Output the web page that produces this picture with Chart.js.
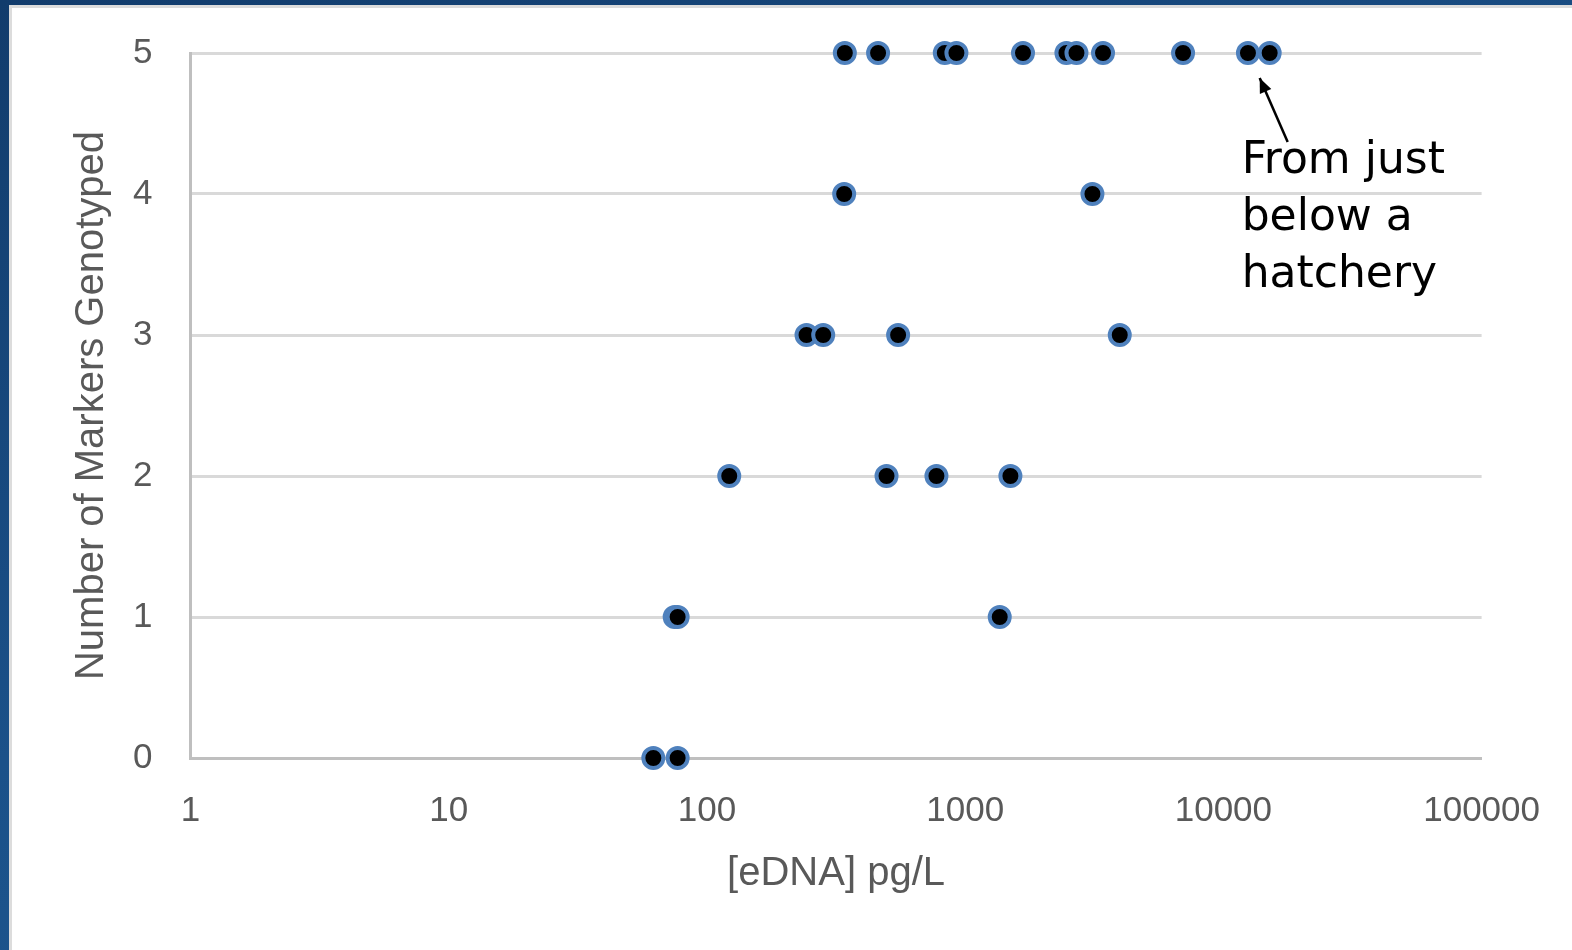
<!DOCTYPE html>
<html>
<head>
<meta charset="utf-8">
<script src="https://cdn.jsdelivr.net/npm/chart.js@4.4.1/dist/chart.umd.min.js"></script>
<style>
  html, body { margin: 0; padding: 0; }
  body {
    width: 1572px; height: 950px; overflow: hidden; position: relative;
    background: linear-gradient(160deg, #123c6c 0%, #1b5189 50%, #1f5b93 100%);
  }
  #panel {
    position: absolute; left: 9px; top: 5px; right: 0; bottom: 0;
    background: #fff; border-left: 3px solid #dcdcdc; border-top: 3px solid #dcdcdc;
  }
  #wrap { position: absolute; left: 0; top: 0; width: 1572px; height: 950px; }
</style>
</head>
<body>
<div id="panel"></div>
<div id="wrap"><canvas id="myChart" width="1572" height="950"></canvas></div>
<script>
//data
const edna = [
  342, 460, 834, 925, 1675, 2467, 2698, 3419, 6980, 12450, 15110,
  340, 3111,
  243, 282, 550, 3969,
  122, 496, 774, 1497,
  75, 77, 1361,
  62, 77
];
const markers = [
  5, 5, 5, 5, 5, 5, 5, 5, 5, 5, 5,
  4, 4,
  3, 3, 3, 3,
  2, 2, 2, 2,
  1, 1, 1,
  0, 0
];
const xTicks = [1, 10, 100, 1000, 10000, 100000];
const noteLines = ["From just", "below a", "hatchery"];
const notePoint = [15110, 5];

//setup
const data = {
  datasets: [
    {
      label: "samples",
      data: edna.map((v, i) => ({ x: v, y: markers[i] })),
      backgroundColor: "#000000",
      borderColor: "#4f81bd",
      borderWidth: 4,
      pointRadius: 10,
      pointHoverRadius: 10,
      clip: false,
    },
  ],
};

//annotation with arrow
const notePlugin = {
  id: "note",
  afterDatasetsDraw(chart) {
    const ctx = chart.ctx;
    const px = chart.scales.x.getPixelForValue(notePoint[0]);
    const py = chart.scales.y.getPixelForValue(notePoint[1]);
    const hx = px - 10, hy = py + 25;
    const tx = px + 18, ty = py + 89;
    ctx.save();
    ctx.strokeStyle = "#000";
    ctx.fillStyle = "#000";
    ctx.lineWidth = 2.5;
    ctx.beginPath();
    ctx.moveTo(tx, ty);
    ctx.lineTo(hx, hy);
    ctx.stroke();
    const ang = Math.atan2(hy - ty, hx - tx);
    ctx.beginPath();
    ctx.moveTo(hx, hy);
    ctx.lineTo(hx - 16 * Math.cos(ang - 0.4), hy - 16 * Math.sin(ang - 0.4));
    ctx.lineTo(hx - 16 * Math.cos(ang + 0.4), hy - 16 * Math.sin(ang + 0.4));
    ctx.closePath();
    ctx.fill();
    ctx.font = "44px 'DejaVu Sans'";
    ctx.textAlign = "left";
    ctx.textBaseline = "alphabetic";
    noteLines.forEach((t, i) => ctx.fillText(t, px - 28, py + 120 + i * 57));
    ctx.restore();
  },
};

//options block
const options = {
  responsive: false,
  animation: false,
  layout: { padding: { left: 58, top: 53, right: 90, bottom: 0 } },
  plugins: {
    legend: { display: false },
    tooltip: { enabled: false },
  },
  scales: {
    x: {
      type: "logarithmic",
      min: 1,
      max: 100000,
      afterBuildTicks: (s) => { s.ticks = xTicks.map((v) => ({ value: v })); },
      afterFit: (s) => { s.height = 192; },
      ticks: {
        color: "#595959",
        padding: 32,
        maxRotation: 0,
        autoSkip: false,
        font: { family: "'Liberation Sans'", size: 35 },
        callback: (v) => String(v),
      },
      grid: { display: false, drawTicks: false },
      border: { display: true, color: "#bfbfbf", width: 3 },
      title: {
        display: true,
        text: "[eDNA] pg/L",
        color: "#595959",
        font: { family: "'Liberation Sans'", size: 40 },
        padding: { top: 0, bottom: 52 },
      },
    },
    y: {
      min: 0,
      max: 5,
      afterFit: (s) => {
        s.width = 132.5;
        s.paddingTop = 0;
        s.paddingBottom = 0;
      },
      ticks: {
        stepSize: 1,
        color: "#595959",
        padding: 38,
        font: { family: "'Liberation Sans'", size: 35 },
      },
      grid: { color: "#d9d9d9", lineWidth: 3, drawTicks: false },
      border: { display: true, color: "#bfbfbf", width: 3 },
      title: {
        display: true,
        text: "Number of Markers Genotyped",
        color: "#595959",
        font: { family: "'Liberation Sans'", size: 40 },
        padding: { top: 10, bottom: 0 },
      },
    },
  },
};

//config
const config = {
  type: "scatter",
  data,
  options,
  plugins: [notePlugin],
};

//render
const myChart = new Chart(document.getElementById("myChart"), config);
</script>
</body>
</html>
